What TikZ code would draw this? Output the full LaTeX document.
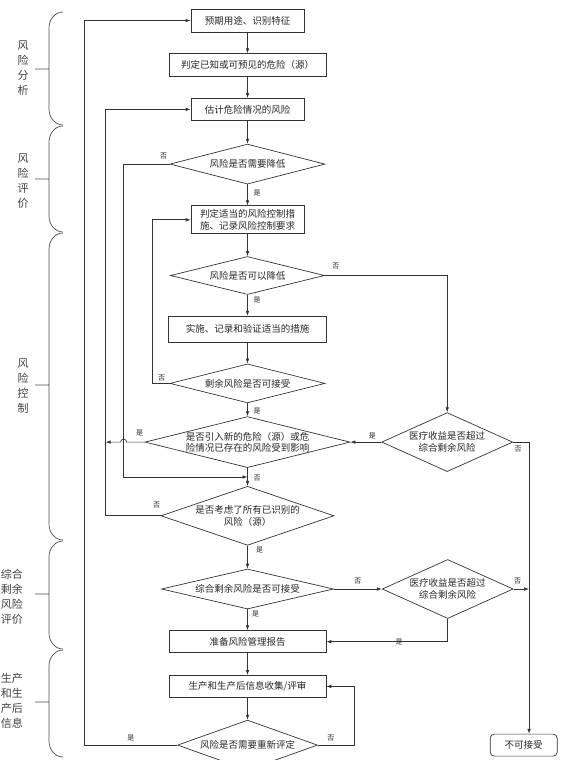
\documentclass[tikz,border=0pt]{standalone}
\usepackage{fontspec}
\newfontfamily\cjk{Noto Sans CJK SC}
\usepackage{tikz}
\usetikzlibrary{arrows.meta,positioning,calc,shapes.geometric}

\begin{document}
\begin{tikzpicture}[
  x=1pt, y=-1pt,
  >=Latex,
  process/.style={draw=black!80, line width=0.7pt, align=center, font=\cjk\fontsize{9.5}{11.5}\selectfont, text=black!85, inner sep=0pt, minimum width=157pt, minimum height=22pt},
  decision/.style={diamond, draw=black!80, line width=0.7pt, align=center, font=\cjk\fontsize{9.5}{11.5}\selectfont, text=black!85, inner sep=-1pt},
  terminal/.style={process, rounded corners=4pt, minimum width=67pt},
  arrow/.style={-{Latex[length=5pt,width=3.6pt]}, line width=0.7pt, draw=black!80},
  lbl/.style={font=\cjk\fontsize{7}{8}\selectfont, text=black!85, inner sep=0pt},
  phase/.style={font=\cjk\fontsize{11}{15}\selectfont, align=center, text=black!75, inner sep=0pt},
  brace/.style={line width=0.7pt, draw=black!70}
]
\useasboundingbox (0,0) rectangle (571,760);

\node[process, minimum width=113pt, minimum height=23pt] (intend) at (247.5,20.5) {预期用途、识别特征};
\node[process, minimum height=23pt, below=21pt of intend] (hazard) {判定已知或可预见的危险（源）};
\node[process, minimum width=113pt, below=21pt of hazard] (estimate) {估计危险情况的风险};
\node[decision, minimum width=155pt, minimum height=40pt, aspect=3.9, below=23pt of estimate] (needReduce) {风险是否需要降低};
\node[process, minimum width=113pt, minimum height=28pt, below=21pt of needReduce] (control) {判定适当的风险控制措\\施、记录风险控制要求};
\node[decision, minimum width=154pt, minimum height=38pt, aspect=4, below=22pt of control] (canReduce) {风险是否可以降低};
\node[process, minimum width=158pt, minimum height=26pt, below=21pt of canReduce] (implement) {实施、记录和验证适当的措施};
\node[decision, minimum width=155pt, minimum height=39pt, aspect=4, below=21pt of implement] (residual) {剩余风险是否可接受};
\node[decision, minimum width=205pt, minimum height=51pt, aspect=4, below=13pt of residual] (newHazard) {是否引入新的危险（源）或危\\险情况已存在的风险受到影响};
\node[decision, minimum width=131pt, minimum height=59pt, aspect=2.2, right=31pt of newHazard] (benefitA) {医疗收益是否超过\\综合剩余风险};
\node[decision, minimum width=173pt, minimum height=59pt, aspect=2.9, below=18pt of newHazard] (allRisks) {是否考虑了所有已识别的\\风险（源）};
\node[decision, minimum width=172pt, minimum height=40pt, aspect=4.3, below=23pt of allRisks] (overall) {综合剩余风险是否可接受};
\node[decision, minimum width=131pt, minimum height=59pt, aspect=2.2, right=48pt of overall] (benefitB) {医疗收益是否超过\\综合剩余风险};
\node[process, below=21pt of overall] (report) {准备风险管理报告};
\node[process, below=22pt of report] (postProd) {生产和生产后信息收集/评审};
\node[decision, minimum width=140pt, minimum height=50pt, aspect=2.8, below=22pt of postProd] (review) {风险是否需要重新评定};
\node[terminal, right=172pt of review] (reject) {不可接受};

% Phase braces on the left
\foreach \ya/\yb/\ym in {12/125/69, 126/232/179, 233/540/385, 541/649/594, 650/757/702}
  \draw[brace] (63,\ya) to[out=180,in=90] (49,\ya+16) -- (49,\yb-16) to[out=-90,in=180] (63,\yb) (35,\ym) -- (49,\ym);

\node[phase] (phaseAnalysis) at (23,68) {风\\险\\分\\析};
\node[phase] (phaseEvaluation) at (23,181) {风\\险\\评\\价};
\node[phase] (phaseControl) at (23,386) {风\\险\\控\\制};
\node[phase] (phaseOverall) at (12,597) {综合\\剩余\\风险\\评价};
\node[phase] (phasePost) at (12,701) {生产\\和生\\产后\\信息};

\coordinate (loopA) at ([xshift=-106pt]intend.west);
\coordinate (loopB) at ([xshift=-85pt]estimate.west);
\coordinate (loopC) at ([xshift=-46pt]needReduce.west);
\coordinate (loopD) at ([xshift=-38pt]control.west);
\coordinate (rightLine) at ([xshift=16pt]benefitA.east);
\coordinate (merge) at ($(newHazard.south)!0.5!(allRisks.north)$);

\draw[arrow] (intend) -- (hazard);
\draw[arrow] (hazard) -- (estimate);
\draw[arrow] (estimate) -- (needReduce);
\draw[arrow] (needReduce.south) node[lbl, xshift=9.5pt, yshift=-9pt] {是} -- (control);
\draw[arrow] (control) -- (canReduce);
\draw[arrow] (canReduce.south) node[lbl, xshift=9.5pt, yshift=-5pt] {是} -- (implement);
\draw[arrow] (implement) -- (residual);
\draw[arrow] (residual.south) node[lbl, xshift=9.5pt, yshift=-8pt] {是} -- (newHazard);
\draw[arrow] (newHazard.south) node[lbl, xshift=9.5pt, yshift=-10pt] {否} -- (allRisks);
\draw[arrow] (allRisks.south) node[lbl, xshift=12pt, yshift=-4pt] {是} -- (overall);
\draw[arrow] (overall.south) node[lbl, xshift=8pt, yshift=-5pt] {是} -- (report);
\draw[arrow] (report) -- (postProd);
\draw[arrow] (postProd) -- (review);

\draw[arrow] (needReduce.west) node[lbl, xshift=-6pt, yshift=8pt] {否} -| (loopC |- merge) -- (merge);
\draw[arrow] (canReduce.east) node[lbl, xshift=11pt, yshift=9pt] {否} -| (benefitA.north);
\draw[arrow] (residual.west) node[lbl, xshift=-8pt, yshift=5pt] {否} -| (loopD |- control.west) -- (control.west);
\draw[arrow] (newHazard.west) node[lbl, xshift=-5pt, yshift=9pt] {是} -- ($(loopC |- newHazard.west)+(3,0)$) arc[start angle=0, end angle=180, radius=3pt] -- (loopB |- newHazard.west);
\draw[arrow] (benefitA.west) node[lbl, xshift=-9pt, yshift=6pt] {是} -- (newHazard.east);
\draw[arrow] (benefitA.east) node[lbl, xshift=5pt, yshift=-7pt] {否} -- (rightLine) -- (rightLine |- reject.north);
\draw[arrow] (allRisks.west) node[lbl, xshift=-4pt, yshift=11pt] {否} -| (loopB |- estimate.west) -- (estimate.west);
\draw[arrow] (overall.east) node[lbl, xshift=24pt, yshift=8pt] {否} -- (benefitB.west);
\draw[arrow] (benefitB.east) node[lbl, xshift=4pt, yshift=8pt] {否} -- (rightLine |- benefitB.east);
\draw[arrow] (benefitB.south) |- node[lbl, pos=0.7] {是} (report.east);
\draw[arrow] (review.west) -| node[lbl, pos=0.25, yshift=7pt] {是} (loopA |- intend.west) -- (intend.west);
\draw[arrow] (review.east) node[lbl, xshift=13pt, yshift=7pt] {否} -- ++(36,0) |- (postProd.east);

\end{tikzpicture}
\end{document}
